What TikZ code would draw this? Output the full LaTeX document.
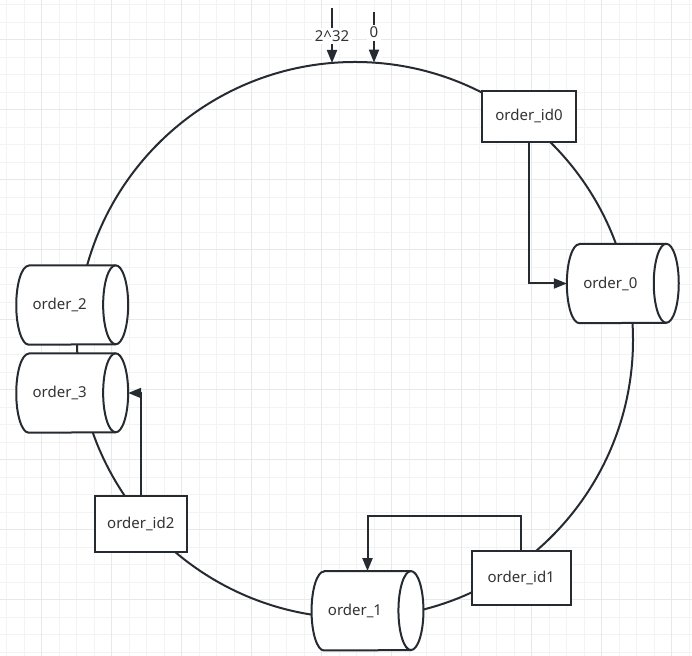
\documentclass[tikz,border=0pt]{standalone}
\usepackage{fontspec}
\setmainfont{Noto Sans}
\usetikzlibrary{arrows.meta,calc}
\definecolor{ln}{RGB}{38,43,50}
\definecolor{tx}{RGB}{51,51,51}
\definecolor{gminor}{RGB}{243,243,243}
\definecolor{gmajor}{RGB}{232,232,232}
\tikzset{
  lbl/.style={text=tx, font=\fontsize{15bp}{18bp}\selectfont, inner sep=0pt},
  box/.style 2 args={draw=ln, fill=white, line width=2bp, inner sep=0pt,
    minimum width=#1, minimum height=#2, text=tx, font=\fontsize{15bp}{18bp}\selectfont},
  cylnode/.style={inner sep=0pt, minimum width=111.5bp, minimum height=79bp},
  cylline/.style={draw=ln, line width=2bp, line join=round},
  arr/.style={draw=ln, line width=2bp, -{Triangle[length=13bp,width=10bp]}},
  edgelbl/.style={lbl, fill=white, inner sep=2.5bp},
}
\newcommand\drawcyl[1]{%
  \path[cylline, fill=white]
    ($(#1.north west)+(12.5,0)$) -- ($(#1.north east)+(-12.5,0)$)
    arc[start angle=90, end angle=-90, x radius=12.5, y radius=39.5]
    -- ($(#1.south west)+(12.5,0)$)
    arc[start angle=270, end angle=90, x radius=12.5, y radius=39.5] -- cycle;
  \path[cylline] ($(#1.north east)+(-12.5,0)$)
    arc[start angle=90, end angle=270, x radius=12.5, y radius=39.5];
}
\begin{document}
\begin{tikzpicture}[x=1bp, y=1bp]
\useasboundingbox (0,0) rectangle (692,656);
\fill[white] (0,0) rectangle (692,656);
% grid
\foreach \k in {0,...,39} {\draw[gminor, line width=1bp] ({6.7+17.5*\k},0) -- ({6.7+17.5*\k},656);}
\foreach \k in {0,...,37} {\draw[gminor, line width=1bp] (0,{651-17.5*\k}) -- (692,{651-17.5*\k});}
\foreach \j in {0,...,9} {\draw[gmajor, line width=1bp] ({41.7+70*\j},0) -- ({41.7+70*\j},656);}
\foreach \j in {0,...,8} {\draw[gmajor, line width=1bp] (0,{616-70*\j}) -- (692,{616-70*\j});}

% ring
\draw[draw=ln, line width=2bp] (355,316) circle[radius=278];

% top markers
\coordinate (s1) at (332,647.5);
\coordinate (e1) at (332,593);
\coordinate (s2) at (374,643.5);
\coordinate (e2) at (374,593.4);
\draw[arr] (s1) -- node[edgelbl] (l1) {2\textasciicircum 32} (e1);
\draw[arr] (s2) -- node[edgelbl, pos=0.4] (l2) {0} (e2);

% cylinders
\node[cylnode] (o0) at (622.8,372.5) {};
\node[cylnode] (o2) at (72.2,351) {};
\node[cylnode] (o3) at (72.2,263) {};
\node[cylnode] (o1) at (367.5,45.2) {};
\drawcyl{o0}
\drawcyl{o2}
\drawcyl{o3}
\drawcyl{o1}
\node[lbl] (o0t) at ($(o0)+(-12.5,0)$) {order\_0};
\node[lbl] (o2t) at ($(o2)+(-12.5,0)$) {order\_2};
\node[lbl] (o3t) at ($(o3)+(-12.5,0)$) {order\_3};
\node[lbl] (o1t) at ($(o1)+(-12.5,0)$) {order\_1};

% boxes
\node[box={93.4bp}{51bp}] (id0) at (529,539.8) {order\_id0};
\node[box={99bp}{54bp}] (id1) at (521.2,78) {order\_id1};
\node[box={91.7bp}{56bp}] (id2) at (140.8,132.3) {order\_id2};

% connectors
\draw[arr] (id0.south) |- (o0.west);
\draw[arr] (id1.north) -- ++(0,33.7) -| (o1.north);
\draw[arr] (id2.north) |- (o3.east);
\end{tikzpicture}
\end{document}
